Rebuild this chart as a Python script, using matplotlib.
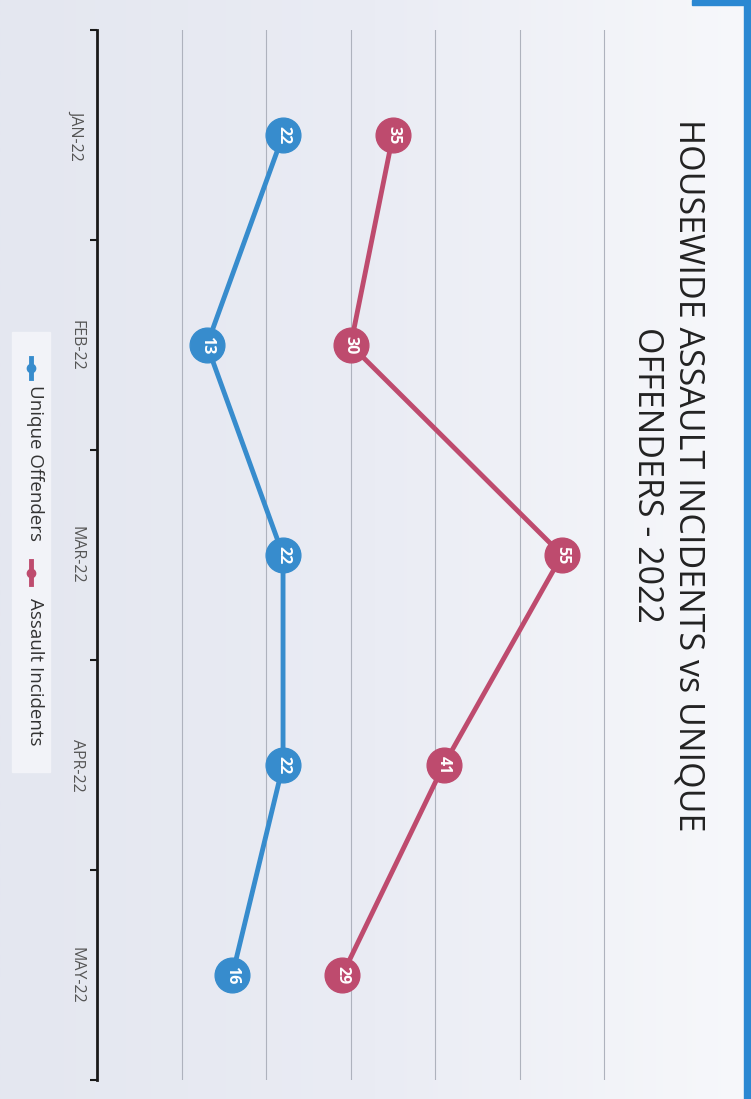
import numpy as np
import matplotlib.pyplot as plt
from matplotlib.colors import LinearSegmentedColormap
from matplotlib.lines import Line2D
from matplotlib.patches import Rectangle

MONTHS = ["JAN-22", "FEB-22", "MAR-22", "APR-22", "MAY-22"]
UNIQUE_OFFENDERS = [22, 13, 22, 22, 16]
ASSAULT_INCIDENTS = [35, 30, 55, 41, 29]
SERIES_NAMES = ["Unique Offenders", "Assault Incidents"]
TITLE = "HOUSEWIDE ASSAULT INCIDENTS vs UNIQUE\nOFFENDERS - 2022"

BLUE = "#378ccd"
PINK = "#be4b6e"
W, H = 751, 1099

plt.rcParams["font.family"] = ["Open Sans", "DejaVu Sans"]


def fx(x, y):
    # pixel position (from top-left) to figure fraction
    return x / W, 1 - y / H


fig = plt.figure(figsize=(W / 100, H / 100), dpi=100)

# paper background, a little whiter towards the right edge
bg = fig.add_axes([0, 0, 1, 1], zorder=-10)
grad = np.linspace(0, 1, 256)[None, :]
paper = LinearSegmentedColormap.from_list("paper", ["#e4e7f0", "#eaecf4", "#f7f8fb"])
bg.imshow(grad, cmap=paper, aspect="auto", extent=[0, 1, 0, 1])
bg.add_patch(Rectangle((744 / W, 0), 7 / W, 1 - 4 / H, color="#2b88d2"))
bg.add_patch(Rectangle((692 / W, 1 - 5 / H), 59 / W, 5 / H, color="#2b88d2"))
bg.set_xlim(0, 1)
bg.set_ylim(0, 1)
bg.axis("off")

# chart axes: values run left to right, months run top to bottom
x0, y0 = fx(97, 1080)
x1, y1 = fx(612, 30)
ax = fig.add_axes([x0, y0, x1 - x0, y1 - y0])
ax.patch.set_alpha(0)
ax.set_xlim(0, 60.9)
ax.set_ylim(len(MONTHS) - 0.5, -0.5)

ax.set_xticks(np.arange(10, 61, 10))
ax.xaxis.grid(True, color="#aeb2bd", linewidth=0.8)
ax.tick_params(axis="x", length=0, labelbottom=False)
for side in ["top", "right", "bottom"]:
    ax.spines[side].set_visible(False)
ax.spines["left"].set_linewidth(2)
ax.spines["left"].set_color("#1a1a1a")

pos = np.arange(len(MONTHS))
ax.set_yticks(pos)
ax.set_yticklabels(MONTHS, rotation=-90, va="center", color="#555555", fontsize=11.5)
ax.set_yticks(np.arange(-0.5, len(MONTHS), 1), minor=True)
ax.tick_params(axis="y", which="major", length=0, pad=9)
ax.tick_params(axis="y", which="minor", length=5, width=1.5, color="#1a1a1a", direction="out")

for values, color in [(UNIQUE_OFFENDERS, BLUE), (ASSAULT_INCIDENTS, PINK)]:
    ax.plot(values, pos, color=color, linewidth=3.5, marker="o", markersize=25,
            solid_capstyle="round", zorder=3)
    for v, p in zip(values, pos):
        ax.text(v, p, str(v), rotation=-90, ha="center", va="center", color="white",
                fontsize=11.5, fontweight="bold", zorder=4)

fig.text(*fx(668, 475), TITLE, rotation=-90, ha="center", va="center",
         multialignment="center", fontsize=24.5, color="#222222", linespacing=1.3)

# legend, drawn upright along the left margin
bg.add_patch(Rectangle(fx(12, 772), 38 / W, 440 / H, color="#f2f3f8", zorder=1))
for (ya, yb, yt), name, color in zip([(358, 378, 463), (561, 584, 672)], SERIES_NAMES, [BLUE, PINK]):
    xa, ya_f = fx(31, ya)
    _, yb_f = fx(31, yb)
    bg.add_line(Line2D([xa, xa], [ya_f, yb_f], color=color, linewidth=3.5, zorder=2))
    bg.add_line(Line2D([xa], [(ya_f + yb_f) / 2], color=color, marker="o", markersize=6, zorder=2))
    fig.text(*fx(35, yt), name, rotation=-90, ha="center", va="center",
             fontsize=13.5, color="#333333")

fig.savefig("out.png", dpi=100)
